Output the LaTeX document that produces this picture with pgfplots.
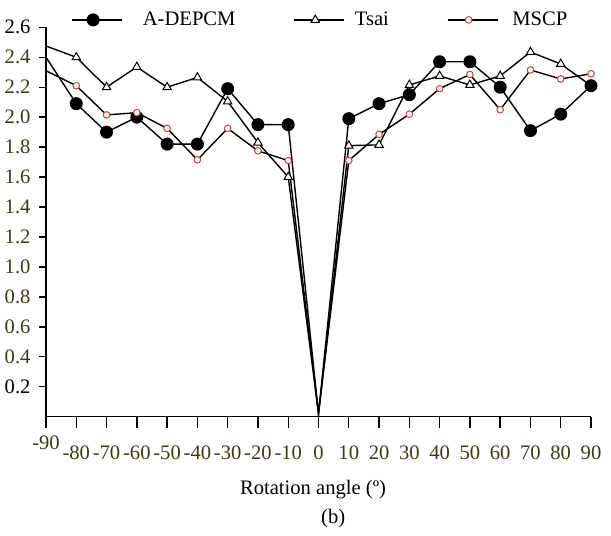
\documentclass[border=0pt]{standalone}
\usepackage{fontspec}
\setmainfont{Liberation Serif}
\usepackage{pgfplots}
\pgfplotsset{compat=1.18}
\definecolor{olivetxt}{RGB}{62,58,16}
\definecolor{mscpred}{RGB}{215,60,60}
\newcommand{\lbl}{\fontsize{10.3bp}{12.4bp}\selectfont}
\begin{document}
\begin{tikzpicture}
\useasboundingbox (-23bp,-59.65bp) rectangle (282.5bp,208.35bp);
\begin{axis}[
  scale only axis,
  width=272.5bp, height=194.7bp,
  xmin=-90, xmax=90, ymin=0, ymax=2.6,
  axis x line*=bottom, axis y line*=left,
  axis line style={line width=0.75bp},
  tick align=outside,
  xtick={-80,-70,...,90},
  xticklabels={-80,-70,-60,-50,-40,-30,-20,-10,0,10,20,30,40,50,60,70,80,90},
  extra x ticks={-90}, extra x tick labels={-90},
  extra x tick style={major tick length=0pt, xticklabel style={yshift=1bp}},
  xtick style={/pgfplots/major tick length=5.5bp, line width=0.7bp, black},
  ytick={0.2,0.4,...,2.6},
  yticklabels={{\textcolor{black}{0.2}},0.4,0.6,0.8,1.0,1.2,1.4,1.6,1.8,2.0,2.2,2.4,{\textcolor{black}{2.6}}},
  ytick style={/pgfplots/major tick length=3.5bp, line width=0.7bp, black},
  tick label style={font=\lbl, text=olivetxt},
  xticklabel style={inner xsep=0pt, yshift=-7bp},
  xlabel={Rotation angle (º)},
  xlabel style={font=\lbl, at={(axis description cs:0.49,0)}, anchor=base, yshift=-39bp},
  legend columns=3,
  legend style={at={(axis description cs:0.035,1.019)}, anchor=west, draw=none, fill=none, font=\lbl,
    /tikz/every even column/.append style={column sep=27bp}},
  legend image code/.code={%
    \path (0bp,0bp) -- (25bp,0bp);
    \draw[mark indices={2}] plot coordinates {(0bp,0bp) (10.5bp,0bp) (21bp,0bp)};},
  clip=false,
]
\addplot[black, line width=0.7bp, mark=*, mark size=2.9bp, mark options={fill=black},
  mark indices={2,3,4,5,6,7,8,9,11,12,13,14,15,16,17,18,19}] coordinates {
  (-90,2.40) (-80,2.09) (-70,1.90) (-60,2.00) (-50,1.82) (-40,1.82) (-30,2.19) (-20,1.95) (-10,1.95)
  (0,0.02) (10,1.99) (20,2.09) (30,2.15) (40,2.37) (50,2.37) (60,2.20) (70,1.91) (80,2.02) (90,2.21)};
\addlegendentry{\hspace*{8bp}A-DEPCM}
\addplot[black, line width=0.7bp, mark=triangle*, mark size=2.4bp, mark options={fill=white, line width=0.5bp},
  mark indices={2,3,4,5,6,7,8,9,11,12,13,14,15,16,17,18}] coordinates {
  (-90,2.475) (-80,2.40) (-70,2.20) (-60,2.335) (-50,2.20) (-40,2.265) (-30,2.105) (-20,1.83) (-10,1.60)
  (0,0.02) (10,1.81) (20,1.815) (30,2.215) (40,2.275) (50,2.215) (60,2.275) (70,2.435) (80,2.355) (90,2.21)};
\addlegendentry{\hspace*{3bp}Tsai}
\addplot[black, line width=0.7bp, mark=*, mark size=1.65bp, mark options={fill=white, draw=mscpred, line width=0.5bp},
  mark indices={2,3,4,5,6,7,8,9,11,12,13,14,15,16,17,18,19}] coordinates {
  (-90,2.31) (-80,2.21) (-70,2.015) (-60,2.03) (-50,1.925) (-40,1.715) (-30,1.925) (-20,1.775) (-10,1.71)
  (0,0.02) (10,1.71) (20,1.885) (30,2.02) (40,2.19) (50,2.285) (60,2.05) (70,2.315) (80,2.255) (90,2.29)};
\addlegendentry{\hspace*{5bp}MSCP}
\node[font=\lbl, anchor=base] at (axis description cs:0.527,0) [yshift=-53.5bp] {(b)};
\end{axis}
\end{tikzpicture}
\end{document}
